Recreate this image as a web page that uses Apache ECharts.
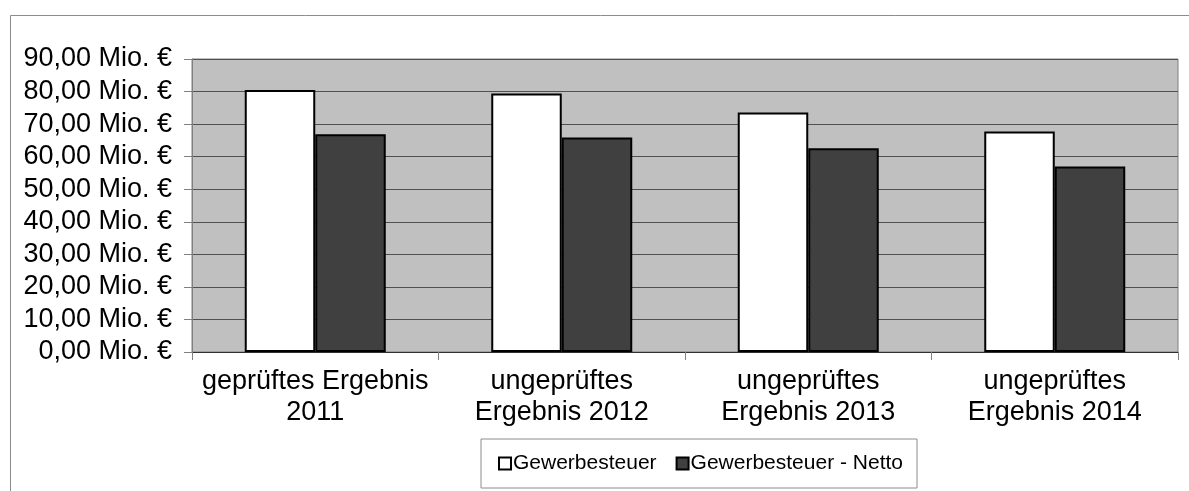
<!DOCTYPE html>
<html>
<head>
<meta charset="utf-8">
<script src="https://cdn.jsdelivr.net/npm/echarts@6/dist/echarts.min.js"></script>
<style>
html,body{margin:0;padding:0;background:#fff;}
#c{width:1189px;height:491px;}
</style>
</head>
<body>
<div id="c"></div>
<script>
const categories = ['geprüftes Ergebnis\n2011', 'ungeprüftes\nErgebnis 2012', 'ungeprüftes\nErgebnis 2013', 'ungeprüftes\nErgebnis 2014'];
const seriesNames = ['Gewerbesteuer', 'Gewerbesteuer - Netto'];
const gewerbesteuer = [80.5, 79.4, 73.6, 67.7];
const gewerbesteuerNetto = [66.9, 65.9, 62.6, 57.0];
const yTickLabels = ['0,00 Mio. €', '10,00 Mio. €', '20,00 Mio. €', '30,00 Mio. €', '40,00 Mio. €', '50,00 Mio. €', '60,00 Mio. €', '70,00 Mio. €', '80,00 Mio. €', '90,00 Mio. €'];

const font = 'Liberation Sans, Arial, sans-serif';
const chart = echarts.init(document.getElementById('c'), null, {renderer: 'canvas'});
chart.setOption({
  animation: false,
  backgroundColor: '#fff',
  textStyle: {fontFamily: font},
  graphic: [{
    type: 'rect', z: -10, silent: true,
    shape: {x: 10.5, y: 15.5, width: 1400, height: 800},
    style: {fill: 'none', stroke: '#8c8c8c', lineWidth: 1}
  }],
  grid: {
    left: 192, right: 11, top: 59, bottom: 139,
    show: true, backgroundColor: '#c0c0c0', borderColor: '#808080', borderWidth: 1
  },
  legend: {
    left: 481, top: 439,
    orient: 'horizontal',
    itemWidth: 12, itemHeight: 12, itemGap: 19,
    padding: [14, 14, 14, 17],
    borderColor: '#8c8c8c', borderWidth: 1,
    backgroundColor: '#fff',
    textStyle: {fontFamily: font, fontSize: 21, color: '#000', padding: [0, 0, 0, -3]},
    data: [
      {name: seriesNames[0], icon: 'rect', itemStyle: {color: '#fff', borderColor: '#000', borderWidth: 2}},
      {name: seriesNames[1], icon: 'rect', itemStyle: {color: '#404040', borderColor: '#000', borderWidth: 2}}
    ]
  },
  xAxis: {
    type: 'category',
    data: categories,
    axisLine: {show: true, lineStyle: {color: '#303030', width: 1}},
    axisTick: {show: true, length: 8, alignWithLabel: false, lineStyle: {color: '#808080'}},
    axisLabel: {fontFamily: font, fontSize: 27, lineHeight: 31, color: '#000', margin: 14, interval: 0, align: 'center'}
  },
  yAxis: {
    type: 'value',
    min: 0, max: 90, interval: 10,
    axisLine: {show: true, lineStyle: {color: '#808080'}},
    axisTick: {show: true, length: 8, lineStyle: {color: '#808080'}},
    splitLine: {show: true, lineStyle: {color: '#505050', width: 1}},
    axisLabel: {
      fontFamily: font, fontSize: 27, color: '#000', margin: 20,
      formatter: function (v) { return yTickLabels[Math.round(v / 10)]; }
    }
  },
  series: [
    {
      name: seriesNames[0], type: 'bar', data: gewerbesteuer,
      barWidth: '28.6%', barGap: '0%',
      itemStyle: {color: '#fff', borderColor: '#000', borderWidth: 2}
    },
    {
      name: seriesNames[1], type: 'bar', data: gewerbesteuerNetto,
      barWidth: '28.6%', barGap: '0%',
      itemStyle: {color: '#404040', borderColor: '#000', borderWidth: 2}
    }
  ]
});
</script>
</body>
</html>
